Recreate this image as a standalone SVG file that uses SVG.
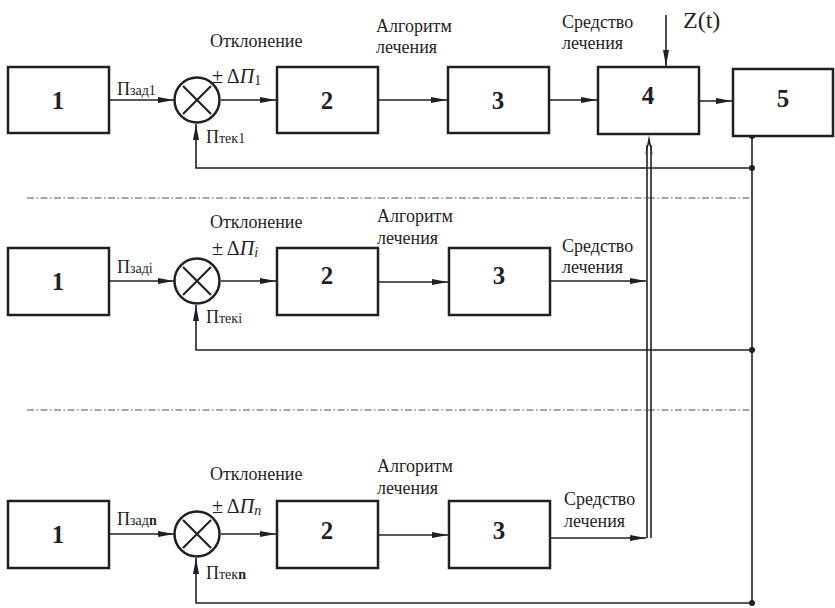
<svg xmlns="http://www.w3.org/2000/svg" width="835" height="608" viewBox="0 0 835 608">
<style>
.box{fill:#fff;stroke:#231f20;stroke-width:2.5}
.num{font-family:"Liberation Serif","Times New Roman","DejaVu Serif",serif;font-weight:bold;font-size:25px;fill:#231f20;text-anchor:middle}
.lbl{font-family:"Liberation Serif","Times New Roman","DejaVu Serif",serif;font-size:18px;fill:#231f20}
.big{font-size:20px}
.z{font-size:24px}
.sub{font-size:14px}
.ln{fill:none;stroke:#231f20;stroke-width:1.6}
.sum{fill:#fff;stroke:#231f20;stroke-width:2.5}
.x{stroke:#231f20;stroke-width:2.2}
.dd{fill:none;stroke:#555;stroke-width:1.2;stroke-dasharray:7 2.5 1.5 2.5}
.dot{fill:#231f20}
</style>
<defs>
<marker id="ar" markerWidth="16" markerHeight="8" refX="16" refY="4" orient="auto" markerUnits="userSpaceOnUse">
<path d="M0,1 L16,4 L0,7 Z" fill="#231f20"/>
</marker>
</defs>

<g id="dividers">
<line class="dd" x1="27" y1="198" x2="752" y2="198"/>
<line class="dd" x1="27" y1="410" x2="752" y2="410"/>
</g>

<g id="connectors">
<line class="ln" x1="109" y1="100" x2="174" y2="100" marker-end="url(#ar)"/>
<line class="ln" x1="221" y1="100" x2="276" y2="100" marker-end="url(#ar)"/>
<line class="ln" x1="379" y1="100" x2="447" y2="100" marker-end="url(#ar)"/>
<line class="ln" x1="549" y1="100" x2="597" y2="100" marker-end="url(#ar)"/>
<line class="ln" x1="699" y1="101" x2="732" y2="101" marker-end="url(#ar)"/>
<line class="ln" x1="666" y1="15" x2="666" y2="66" marker-end="url(#ar)"/>
<polyline class="ln" points="752,136 752,603"/>
<polyline class="ln" points="752,168 196,168 196,124" marker-end="url(#ar)"/>
<line class="ln" x1="109" y1="281" x2="174" y2="281" marker-end="url(#ar)"/>
<line class="ln" x1="221" y1="281" x2="276" y2="281" marker-end="url(#ar)"/>
<line class="ln" x1="379" y1="282" x2="448" y2="282" marker-end="url(#ar)"/>
<line class="ln" x1="551" y1="281" x2="646" y2="281" marker-end="url(#ar)"/>
<polyline class="ln" points="752,350 196,350 196,305" marker-end="url(#ar)"/>
<line class="ln" x1="109" y1="534" x2="174" y2="534" marker-end="url(#ar)"/>
<line class="ln" x1="221" y1="534" x2="276" y2="534" marker-end="url(#ar)"/>
<line class="ln" x1="379" y1="535" x2="448" y2="535" marker-end="url(#ar)"/>
<line class="ln" x1="551" y1="538" x2="646" y2="538" marker-end="url(#ar)"/>
<polyline class="ln" points="752,603 196,603 196,558" marker-end="url(#ar)"/>
<line class="ln" x1="647" y1="538" x2="647" y2="145"/>
<line class="ln" x1="651" y1="538" x2="651" y2="145"/>
<path d="M649,135 L645,156 L647,150 L649,144 L651,150 L653,156 Z" fill="#231f20"/>
<circle class="dot" cx="752" cy="136" r="3"/>
<circle class="dot" cx="752" cy="168" r="3"/>
<circle class="dot" cx="752" cy="350" r="3"/>
<circle class="dot" cx="752" cy="603" r="3"/>
</g>

<g id="r1b1"><rect class="box" x="8" y="67" width="101" height="66"/><text class="num" x="58" y="109">1</text></g>
<g id="r1sum"><circle class="sum" cx="197" cy="100" r="22.5"/><line class="x" x1="183" y1="86" x2="211" y2="114"/><line class="x" x1="211" y1="86" x2="183" y2="114"/></g>
<g id="r1b2"><rect class="box" x="277" y="67" width="101" height="66"/><text class="num" x="327" y="109">2</text></g>
<g id="r1b3"><rect class="box" x="448" y="67" width="101" height="66"/><text class="num" x="498" y="109">3</text></g>
<g id="r1b4"><rect class="box" x="598" y="67" width="101" height="67"/><text class="num" x="648" y="104">4</text></g>
<g id="r1b5"><rect class="box" x="733" y="69" width="100" height="67"/><text class="num" x="783" y="107">5</text></g>
<g id="r1labels">
<text class="lbl" x="117" y="95">П<tspan class="sub">зад1</tspan></text>
<text class="lbl" x="206" y="143">П<tspan class="sub">тек1</tspan></text>
<text class="lbl" x="210" y="47">Отклонение</text>
<text class="lbl big" x="212" y="83">± Δ<tspan font-style="italic">П</tspan><tspan class="sub" dy="2">1</tspan></text>
<text class="lbl" x="376" y="32">Алгоритм</text>
<text class="lbl" x="376" y="53">лечения</text>
<text class="lbl" x="562" y="28">Средство</text>
<text class="lbl" x="562" y="49">лечения</text>
<text class="lbl z" x="683" y="28">Z(t)</text>
</g>

<g id="rib1"><rect class="box" x="8" y="248" width="101" height="67"/><text class="num" x="58" y="290">1</text></g>
<g id="risum"><circle class="sum" cx="197" cy="281" r="22.5"/><line class="x" x1="183" y1="267" x2="211" y2="295"/><line class="x" x1="211" y1="267" x2="183" y2="295"/></g>
<g id="rib2"><rect class="box" x="277" y="248" width="101" height="67"/><text class="num" x="327" y="284">2</text></g>
<g id="rib3"><rect class="box" x="449" y="248" width="101" height="67"/><text class="num" x="499" y="284">3</text></g>
<g id="rilabels">
<text class="lbl" x="117" y="273">П<tspan class="sub">задi</tspan></text>
<text class="lbl" x="206" y="323">П<tspan class="sub">текi</tspan></text>
<text class="lbl" x="210" y="228">Отклонение</text>
<text class="lbl big" x="212" y="255">± Δ<tspan font-style="italic">П</tspan><tspan class="sub" font-style="italic" dy="2">i</tspan></text>
<text class="lbl" x="377" y="222">Алгоритм</text>
<text class="lbl" x="377" y="244">лечения</text>
<text class="lbl" x="562" y="252">Средство</text>
<text class="lbl" x="562" y="273">лечения</text>
</g>

<g id="rnb1"><rect class="box" x="8" y="501" width="101" height="67"/><text class="num" x="58" y="543">1</text></g>
<g id="rnsum"><circle class="sum" cx="197" cy="534" r="22.5"/><line class="x" x1="183" y1="520" x2="211" y2="548"/><line class="x" x1="211" y1="520" x2="183" y2="548"/></g>
<g id="rnb2"><rect class="box" x="277" y="501" width="101" height="67"/><text class="num" x="327" y="539">2</text></g>
<g id="rnb3"><rect class="box" x="449" y="501" width="101" height="67"/><text class="num" x="499" y="539">3</text></g>
<g id="rnlabels">
<text class="lbl" x="117" y="525">П<tspan class="sub">зад<tspan font-weight="bold">n</tspan></tspan></text>
<text class="lbl" x="206" y="579">П<tspan class="sub">тек<tspan font-weight="bold">n</tspan></tspan></text>
<text class="lbl" x="210" y="480">Отклонение</text>
<text class="lbl big" x="212" y="513">± Δ<tspan font-style="italic">П</tspan><tspan class="sub" font-style="italic" dy="2">n</tspan></text>
<text class="lbl" x="377" y="472">Алгоритм</text>
<text class="lbl" x="377" y="494">лечения</text>
<text class="lbl" x="564" y="505">Средство</text>
<text class="lbl" x="564" y="527">лечения</text>
</g>
</svg>
